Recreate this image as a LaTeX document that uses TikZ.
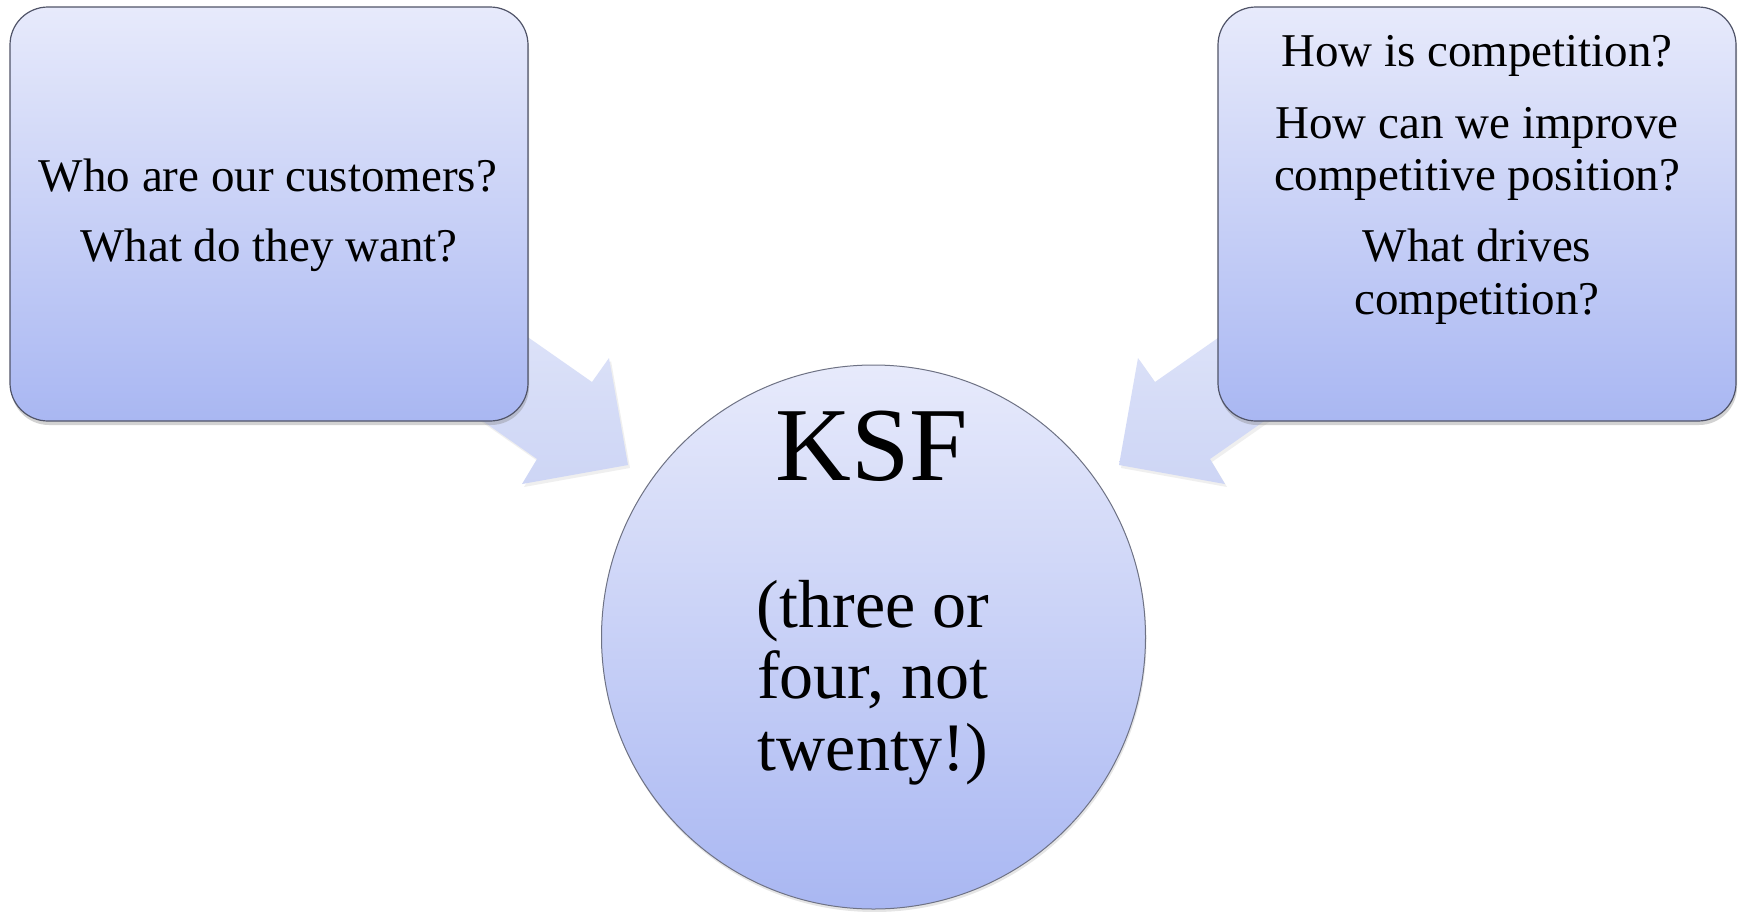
\documentclass[tikz,border=0pt]{standalone}
\usepackage{fontspec}
\setmainfont{Liberation Serif}
\usetikzlibrary{shadows}
\definecolor{bgA}{HTML}{FAFAFA}
\definecolor{bgB}{HTML}{F3F3F3}
\definecolor{bgC}{HTML}{ECECEC}
\definecolor{bgD}{HTML}{E2E2E2}
\definecolor{boxtop}{HTML}{E7EAFB}
\definecolor{boxbot}{HTML}{A9B7F2}
\definecolor{boxline}{HTML}{505468}
\definecolor{circline}{HTML}{6E7284}
\definecolor{arrowtop}{HTML}{E0E5F9}
\definecolor{arrowbot}{HTML}{CDD5F5}
\pgfdeclareradialshading{bgshade}{\pgfpoint{0bp}{0bp}}{color(0bp)=(white); color(25bp)=(white); color(30bp)=(bgA); color(37.5bp)=(bgB); color(43.5bp)=(bgC); color(50bp)=(bgD)}
\begin{document}
\begin{tikzpicture}[x=1pt,y=-1pt,
  qbox/.style={draw=boxline, line width=1.2pt, rounded corners=38pt, inner sep=0pt,
    minimum width=518pt, minimum height=414pt, top color=boxtop, bottom color=boxbot,
    drop shadow={shadow xshift=1pt, shadow yshift=-4pt, opacity=0.35}},
  kcircle/.style={circle, draw=circline, line width=1pt, inner sep=0pt, minimum size=544pt,
    top color=boxtop, bottom color=boxbot,
    drop shadow={shadow xshift=1pt, shadow yshift=-3pt, opacity=0.2}},
  blockarrow/.style={top color=arrowtop, bottom color=arrowbot, draw=none,
    drop shadow={shadow xshift=2pt, shadow yshift=-3pt, opacity=0.12}},
  qtext/.style={anchor=base, inner sep=0pt, font=\fontsize{47}{55}\selectfont},
  bigtext/.style={anchor=base, inner sep=0pt, font=\fontsize{105}{120}\selectfont},
  midtext/.style={anchor=base, inner sep=0pt, font=\fontsize{68}{80}\selectfont}]
\useasboundingbox (0,0) rectangle (1741,911);
\begin{scope}
  \clip (0,0) rectangle (1741,911);
  \shade[shading=bgshade] (873,455) circle[radius=1000pt];
\end{scope}
% block arrows
\path[blockarrow] (469,296) -- (592,382) -- (609,358) -- (628,465) -- (522,484) -- (537,459) -- (414,373) -- cycle;
\path[blockarrow] (1278,296) -- (1155,382) -- (1138,358) -- (1119,465) -- (1225,484) -- (1210,459) -- (1333,373) -- cycle;
% boxes
\node[qbox] (lbox) at (269,214) {};
\node[qbox] (rbox) at (1477,214) {};
\node[kcircle] (ksf) at (873.5,637) {};
% texts
\node[qtext] (l1) at (268,191.7) {Who are our customers?};
\node[qtext] (l2) at (269,261.7) {What do they want?};
\node[qtext] (r1) at (1477,66.7) {How is competition?};
\node[qtext] (r2) at (1477,138.3) {How can we improve};
\node[qtext] (r3) at (1477,190.5) {competitive position?};
\node[qtext] (r4) at (1477,261.7) {What drives};
\node[qtext] (r5) at (1477,314.5) {competition?};
\node[bigtext] (k1) at (872,480.7) {KSF};
\node[midtext] (k2) at (873,627) {(three or};
\node[midtext] (k3) at (873,698) {four, not};
\node[midtext] (k4) at (873,770) {twenty!)};
\end{tikzpicture}
\end{document}
